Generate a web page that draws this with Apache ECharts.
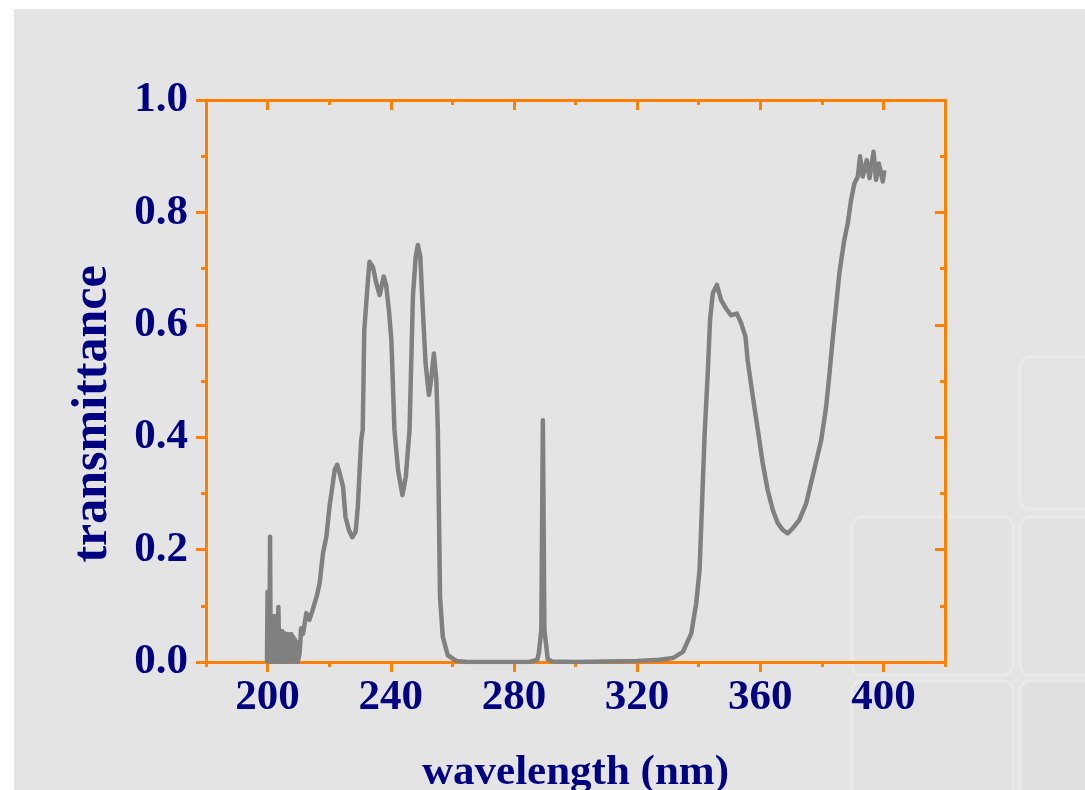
<!DOCTYPE html>
<html>
<head>
<meta charset="utf-8">
<script src="https://cdn.jsdelivr.net/npm/echarts@6/dist/echarts.min.js"></script>
<style>
  html, body { margin: 0; padding: 0; background: #fff; }
  #main { width: 1085px; height: 790px; }
</style>
</head>
<body>
<div id="main"></div>
<script>
// wavelength (nm) and transmittance
var wl = [
  199.8, 200.0, 200.2, 200.4, 200.6, 200.8, 201.0, 201.3, 201.5, 201.7, 202.0, 202.3, 202.6, 202.9,
  203.2, 203.5, 203.8, 204.1, 204.4, 204.7, 205.0, 205.3, 205.6, 205.9, 206.2, 206.5, 206.8, 207.1,
  207.4, 207.7, 208.0, 208.3, 208.6, 208.9, 209.2, 209.5, 209.8, 210.4, 210.9, 211.5, 212.6, 213.6,
  214.5, 215.3, 216.1, 216.9, 218.0, 219.1, 220.1, 221.2, 221.8, 222.6, 223.4, 224.5, 225.3, 226.4,
  227.5, 228.6, 229.3, 230.4, 230.9, 231.4, 232.6, 233.1, 234.2, 235.3, 236.4, 236.9, 237.7, 238.5,
  239.4, 240.2, 241.2, 242.4, 243.8, 244.9, 246.1, 247.2, 248.1, 248.8, 249.6, 250.2, 251.3, 252.4,
  253.1, 254.0, 254.8, 255.3, 256.0, 256.9, 258.5, 261.3, 265.0, 275.0, 285.0, 287.6, 288.1, 288.9,
  289.4, 289.9, 291.0, 292.5, 300.0, 310.0, 320.0, 327.3, 331.6, 334.9, 337.6, 339.2, 340.3, 341.1,
  341.9, 343.0, 343.7, 344.6, 345.9, 347.3, 348.9, 350.5, 352.4, 353.8, 355.2, 355.9, 357.6, 359.2,
  360.8, 362.4, 364.1, 365.7, 367.3, 368.9, 370.6, 372.7, 374.9, 377.0, 379.8, 381.4, 382.5, 383.5,
  384.6, 385.7, 387.3, 388.4, 389.5, 390.6, 391.7, 392.4, 393.3, 394.6, 395.5, 396.8, 397.6, 398.5,
  399.8, 400.3
];
var tr = [
  0.0, 0.125, 0.0, 0.11, 0.0, 0.223, 0.0, 0.07, 0.0, 0.08, 0.01, 0.082, 0.0, 0.06,
  0.0, 0.098, 0.01, 0.05, 0.0, 0.055, 0.0, 0.052, 0.01, 0.045, 0.0, 0.05, 0.005, 0.042,
  0.0, 0.05, 0.01, 0.045, 0.0, 0.04, 0.005, 0.035, 0.0, 0.016, 0.06, 0.05, 0.087, 0.075,
  0.09, 0.105, 0.12, 0.14, 0.194, 0.223, 0.276, 0.318, 0.342, 0.351, 0.336, 0.312, 0.258, 0.235,
  0.222, 0.232, 0.276, 0.395, 0.413, 0.59, 0.68, 0.712, 0.703, 0.674, 0.653, 0.656, 0.686, 0.671,
  0.626, 0.573, 0.413, 0.34, 0.297, 0.33, 0.413, 0.65, 0.721, 0.742, 0.721, 0.65, 0.532, 0.475,
  0.502, 0.549, 0.502, 0.413, 0.116, 0.045, 0.012, 0.002, 0.0, 0.0, 0.0, 0.004, 0.016, 0.057,
  0.43, 0.057, 0.005, 0.001, 0.0, 0.001, 0.002, 0.004, 0.007, 0.018, 0.051, 0.104, 0.164, 0.282,
  0.401, 0.52, 0.609, 0.656, 0.671, 0.644, 0.629, 0.617, 0.62, 0.603, 0.579, 0.537, 0.472, 0.413,
  0.354, 0.306, 0.27, 0.247, 0.235, 0.229, 0.238, 0.253, 0.282, 0.33, 0.395, 0.454, 0.514, 0.573,
  0.632, 0.692, 0.751, 0.78, 0.822, 0.852, 0.864, 0.9, 0.864, 0.893, 0.861, 0.908, 0.858, 0.887,
  0.855, 0.875
];
var majorX = [200, 240, 280, 320, 360, 400];
var minorX = [180, 220, 260, 300, 340, 380, 420];

var orange = '#ff8000'
var navy = '#000080'
var font = "'Liberation Serif', 'Times New Roman', serif"

var pts = []
for (var i = 0; i < wl.length; i++) {
  pts.push([wl[i], tr[i]])
}

var myChart = echarts.init(document.getElementById('main'))

function xAx(pos, ticks, len, inside, main) {
  return {
    type: 'value',
    min: 180,
    max: 420,
    position: pos,
    axisLine: { show: main, onZero: false, lineStyle: { color: orange, width: 3 } },
    axisTick: { customValues: ticks, inside: inside, length: len, lineStyle: { color: orange, width: 3 } },
    axisLabel: pos === 'bottom' && main ? {
      customValues: majorX,
      margin: 14,
      color: navy,
      fontSize: 43,
      fontWeight: 'bold',
      fontFamily: font
    } : { show: false },
    splitLine: { show: false }
  }
}

var option = {
  backgroundColor: '#ffffff',
  animation: false,
  graphic: [
    { type: 'rect', z: -10, shape: { x: 14, y: 9, width: 1071, height: 781 }, style: { fill: '#e4e4e4' } },
    { type: 'rect', z: -9, shape: { x: 1020, y: 357, width: 80, height: 152, r: 10 }, style: { fill: '#e3e3e3', stroke: '#e9e9e9', lineWidth: 3 } },
    { type: 'rect', z: -9, shape: { x: 852, y: 517, width: 161, height: 158, r: 10 }, style: { fill: '#e2e2e2', stroke: '#e9e9e9', lineWidth: 3 } },
    { type: 'rect', z: -9, shape: { x: 1020, y: 517, width: 80, height: 158, r: 10 }, style: { fill: '#e2e2e2', stroke: '#e9e9e9', lineWidth: 3 } },
    { type: 'rect', z: -9, shape: { x: 852, y: 681, width: 161, height: 130, r: 10 }, style: { fill: '#e1e1e1', stroke: '#e9e9e9', lineWidth: 3 } },
    { type: 'rect', z: -9, shape: { x: 1020, y: 681, width: 80, height: 130, r: 10 }, style: { fill: '#e0e0e0', stroke: '#e9e9e9', lineWidth: 3 } },
    {
      type: 'text',
      x: 93,
      y: 414,
      rotation: Math.PI / 2,
      style: {
        text: 'transmittance',
        fill: navy,
        font: "bold 50px 'Liberation Serif', 'Times New Roman', serif",
        align: 'center',
        verticalAlign: 'middle'
      }
    }
  ],
  grid: { left: 206, right: 140, top: 100, bottom: 128, containLabel: false, outerBoundsMode: 'none' },
  xAxis: [
    Object.assign(xAx('bottom', majorX, 10, false, true), {
      name: 'wavelength (nm)',
      nameLocation: 'middle',
      nameGap: 89,
      nameTextStyle: { color: navy, fontSize: 43, fontWeight: 'bold', fontFamily: font }
    }),
    xAx('bottom', minorX, 5, false, false),
    xAx('top', majorX, 10, true, true),
    xAx('top', minorX, 5, true, false)
  ],
  yAxis: [
    {
      type: 'value',
      min: 0,
      max: 1,
      interval: 0.2,
      position: 'left',
      axisLine: { onZero: false, lineStyle: { color: orange, width: 3 } },
      axisTick: { length: 10, lineStyle: { color: orange, width: 3 } },
      minorTick: { show: true, splitNumber: 2, length: 5, lineStyle: { color: orange, width: 3 } },
      axisLabel: {
        margin: 18,
        color: navy,
        fontSize: 43,
        fontWeight: 'bold',
        fontFamily: font,
        formatter: function(v) { return v.toFixed(1) }
      },
      splitLine: { show: false },
      minorSplitLine: { show: false }
    },
    {
      type: 'value',
      min: 0,
      max: 1,
      interval: 0.2,
      position: 'right',
      axisLine: { onZero: false, lineStyle: { color: orange, width: 3 } },
      axisTick: { inside: true, length: 10, lineStyle: { color: orange, width: 3 } },
      minorTick: { show: true, splitNumber: 2, length: 5, lineStyle: { color: orange, width: 3 } },
      axisLabel: { show: false },
      splitLine: { show: false },
      minorSplitLine: { show: false }
    }
  ],
  series: [
    {
      type: 'line',
      xAxisIndex: 0,
      yAxisIndex: 0,
      data: pts,
      showSymbol: false,
      symbol: 'none',
      lineStyle: { color: '#808080', width: 4.5, join: 'round' },
      z: 1
    }
  ]
}
myChart.setOption(option)
</script>
</body>
</html>
